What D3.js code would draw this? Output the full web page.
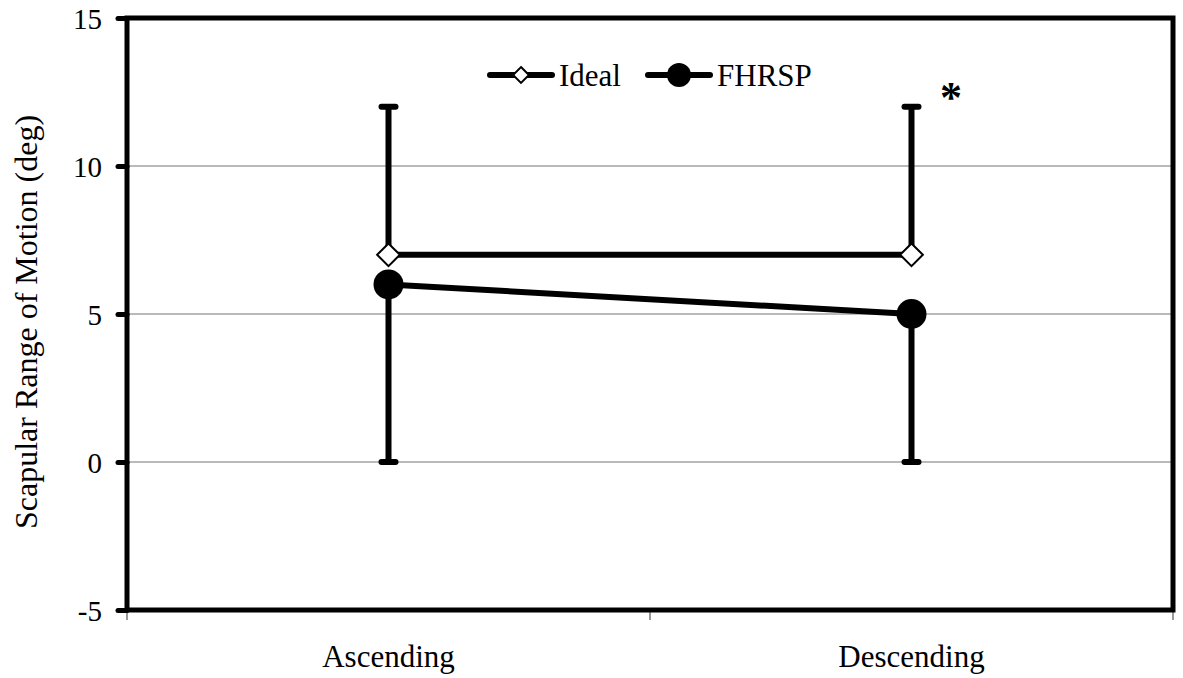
<!DOCTYPE html>
<html>
<head>
<meta charset="utf-8">
<script src="https://cdn.jsdelivr.net/npm/d3@7"></script>
<style>
  body { margin: 0; background: #fff; }
</style>
</head>
<body>
<div id="chart"></div>
<script>
// Data
var categories = ["Ascending", "Descending"],
	idealValues = [7, 7],
	idealErrUp = [5, 5],
	fhrspValues = [6, 5],
	fhrspErrDown = [6, 5],
	yTicks = [-5, 0, 5, 10, 15],
	yTitle = "Scapular Range of Motion (deg)";

var FONT = "'Liberation Serif', 'Times New Roman', Tinos, 'DejaVu Serif', serif";

var width = 1183,
	height = 678,
	margin = {top: 18, right: 10, bottom: 68, left: 127},
	svg = d3.select("#chart")
		.append("svg")
		.attr("width", width)
		.attr("height", height)
		.style("font-family", FONT);

var x = d3.scaleBand()
	.domain(categories)
	.range([margin.left, width - margin.right]);

var y = d3.scaleLinear()
	.domain([-5, 15])
	.range([height - margin.bottom, margin.top]);

var cx = function(c) { return x(c) + x.bandwidth() / 2; };

// gridlines
svg.append("g")
	.selectAll("line")
	.data(yTicks.filter(function(t) { return t > -5 && t < 15; }))
	.enter().append("line")
	.attr("x1", margin.left)
	.attr("x2", width - margin.right)
	.attr("y1", function(d) { return y(d); })
	.attr("y2", function(d) { return y(d); })
	.attr("stroke", "#777")
	.attr("stroke-width", 1.2);

// x axis: thin ticks at band edges, labels at band centres
var gx = svg.append("g")
	.attr("transform", "translate(0," + (height - margin.bottom) + ")");
gx.selectAll("line.edge")
	.data(categories.map(function(c) { return x(c); }).concat([x.range()[1]]))
	.enter().append("line")
	.attr("class", "edge")
	.attr("x1", function(d) { return d; })
	.attr("x2", function(d) { return d; })
	.attr("y1", 0)
	.attr("y2", 10)
	.attr("stroke", "#555")
	.attr("stroke-width", 1.2);

gx.selectAll("text.cat")
	.data(categories)
	.enter().append("text")
	.attr("class", "cat")
	.attr("x", function(d) { return cx(d); })
	.attr("y", 57)
	.attr("text-anchor", "middle")
	.style("font-family", FONT)
	.style("font-size", "31px")
	.text(function(d) { return d; });

// y axis
var yAxis = d3.axisLeft(y).tickValues(yTicks).tickSize(9).tickPadding(16)
	.tickFormat(function(d) { return String(d); });
var gy = svg.append("g")
	.attr("transform", "translate(" + margin.left + ",0)")
	.call(yAxis);
gy.attr("font-family", null);
gy.select(".domain").remove();
gy.selectAll(".tick line")
	.attr("stroke", "#000")
	.attr("stroke-width", 5)
	.attr("stroke-linecap", "round");
gy.selectAll(".tick text")
	.style("font-family", FONT)
	.style("font-size", "29px")
	.attr("fill", "#000")
	.attr("dy", "0.35em");

// frame
svg.append("rect")
	.attr("x", margin.left)
	.attr("y", margin.top)
	.attr("width", width - margin.left - margin.right)
	.attr("height", height - margin.top - margin.bottom)
	.attr("fill", "none")
	.attr("stroke", "#000")
	.attr("stroke-width", 5);

svg.append("text")
	.attr("transform", "translate(26," + ((margin.top + height - margin.bottom) / 2 + 8) + ") rotate(-90)")
	.attr("text-anchor", "middle")
	.attr("dy", "0.35em")
	.style("font-family", FONT)
	.style("font-size", "32px")
	.text(yTitle);

// error bars
function errBar(cxv, y0, y1) {
	svg.append("line")
		.attr("x1", cxv).attr("x2", cxv)
		.attr("y1", y(y0)).attr("y2", y(y1))
		.attr("stroke", "#000").attr("stroke-width", 6);
	svg.append("line")
		.attr("x1", cxv - 7).attr("x2", cxv + 7)
		.attr("y1", y(y1)).attr("y2", y(y1))
		.attr("stroke", "#000").attr("stroke-width", 6)
		.attr("stroke-linecap", "round");
}
categories.forEach(function(c, i) {
	errBar(cx(c), idealValues[i], idealValues[i] + idealErrUp[i]);
	errBar(cx(c), fhrspValues[i], fhrspValues[i] - fhrspErrDown[i]);
});

var line = d3.line()
	.x(function(d, i) { return cx(categories[i]); })
	.y(function(d) { return y(d); });

svg.append("path")
	.datum(idealValues)
	.attr("d", line)
	.attr("fill", "none")
	.attr("stroke", "#000")
	.attr("stroke-width", 6);
svg.append("path")
	.datum(fhrspValues)
	.attr("d", line)
	.attr("fill", "none")
	.attr("stroke", "#000")
	.attr("stroke-width", 6);

var diamond = d3.symbol().type(d3.symbolDiamond2).size(330);
svg.selectAll(".ideal")
	.data(idealValues)
	.enter().append("path")
	.attr("class", "ideal")
	.attr("d", diamond)
	.attr("transform", function(d, i) { return "translate(" + cx(categories[i]) + "," + y(d) + ")"; })
	.attr("fill", "#fff")
	.attr("stroke", "#000")
	.attr("stroke-width", 2);

svg.selectAll(".fhrsp")
	.data(fhrspValues)
	.enter().append("circle")
	.attr("class", "fhrsp")
	.attr("cx", function(d, i) { return cx(categories[i]); })
	.attr("cy", function(d) { return y(d); })
	.attr("r", 15)
	.attr("fill", "#000");

// significance
svg.append("text")
	.attr("x", 951)
	.attr("y", 112)
	.attr("text-anchor", "middle")
	.style("font-family", FONT)
	.style("font-size", "44px")
	.style("font-weight", "bold")
	.text("*");

// legend
var lg = svg.append("g").attr("transform", "translate(490,75)");
lg.append("line").attr("x1", 0).attr("x2", 62).attr("stroke", "#000").attr("stroke-width", 6).attr("stroke-linecap", "round");
lg.append("path").attr("d", d3.symbol().type(d3.symbolDiamond2).size(160))
	.attr("transform", "translate(31,0)")
	.attr("fill", "#fff").attr("stroke", "#000").attr("stroke-width", 2);
lg.append("text").attr("x", 69).attr("dy", "0.35em").style("font-family", FONT).style("font-size", "31px").text("Ideal");
lg.append("line").attr("x1", 158).attr("x2", 220).attr("stroke", "#000").attr("stroke-width", 6).attr("stroke-linecap", "round");
lg.append("circle").attr("cx", 189).attr("r", 12).attr("fill", "#000");
lg.append("text").attr("x", 227).attr("dy", "0.35em").style("font-family", FONT).style("font-size", "31px").text("FHRSP");
</script>
</body>
</html>
